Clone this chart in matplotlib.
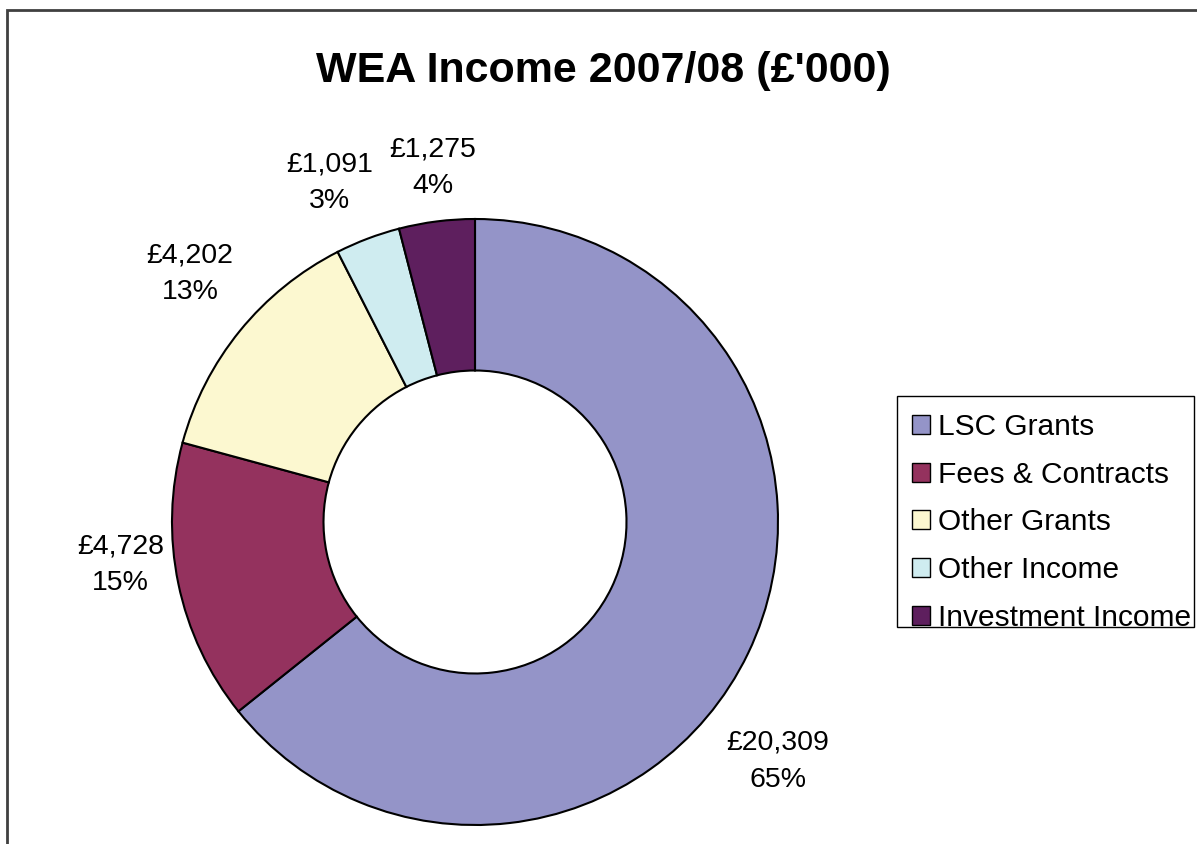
import matplotlib
matplotlib.use("Agg")
import matplotlib.pyplot as plt
from matplotlib.patches import Rectangle, Patch

plt.rcParams['font.family'] = ['Liberation Sans', 'DejaVu Sans']

categories = ["LSC Grants", "Fees & Contracts", "Other Grants", "Other Income", "Investment Income"]
values = [20309, 4728, 4202, 1091, 1275]
percent_labels = ["65%", "15%", "13%", "3%", "4%"]
colors = ["#9494C8", "#94325E", "#FCF8D0", "#CFECF0", "#5E1F5E"]
# label anchor positions (data units, radius = 1)
label_pos = [(1.00, -0.79), (-1.17, -0.14), (-0.94, 0.82), (-0.48, 1.12), (-0.14, 1.17)]

W, H = 1197, 844
fig = plt.figure(figsize=(W / 100, H / 100), dpi=100)

cx, cy, R = 475, 322, 303
half = 400
ax = fig.add_axes([(cx - half) / W, (cy - half) / H, 2 * half / W, 2 * half / H])

wedges, _ = ax.pie(values, colors=colors, startangle=90, counterclock=False, radius=1,
                   wedgeprops=dict(width=0.5, edgecolor='black', linewidth=1.5))
ax.set_xlim(-half / R, half / R)
ax.set_ylim(-half / R, half / R)
ax.set_aspect('equal')
ax.axis('off')

for v, p, (x, y) in zip(values, percent_labels, label_pos):
    ax.text(x, y, f"£{v:,}\n{p}", ha='center', va='center', fontsize=20.5,
            linespacing=1.54, color='black')

fig.text(603 / W, 1 - 71 / H, "WEA Income 2007/08 (£'000)", ha='center', va='center',
         fontsize=31, fontweight='bold')

handles = [Patch(facecolor=c, edgecolor='black', linewidth=1) for c in colors]
leg = fig.legend(handles, categories, loc='upper left',
                 bbox_to_anchor=(900 / W, 1 - 401 / H), fontsize=21.5,
                 frameon=False,
                 handlelength=0.6, handleheight=0.6, handletextpad=0.27,
                 labelspacing=0.66, borderpad=0.4, borderaxespad=0)

# legend frame
fig.patches.append(Rectangle((897 / W, 1 - 627 / H), (1194 - 897) / W, (627 - 396) / H,
                             transform=fig.transFigure, fill=False, edgecolor='black',
                             linewidth=1))

fig.patches.append(Rectangle((7 / W, -0.1), 1.2, (H - 10) / H + 0.1, transform=fig.transFigure,
                             fill=False, edgecolor='#404040', linewidth=2))

fig.savefig("out.png", dpi=100)
